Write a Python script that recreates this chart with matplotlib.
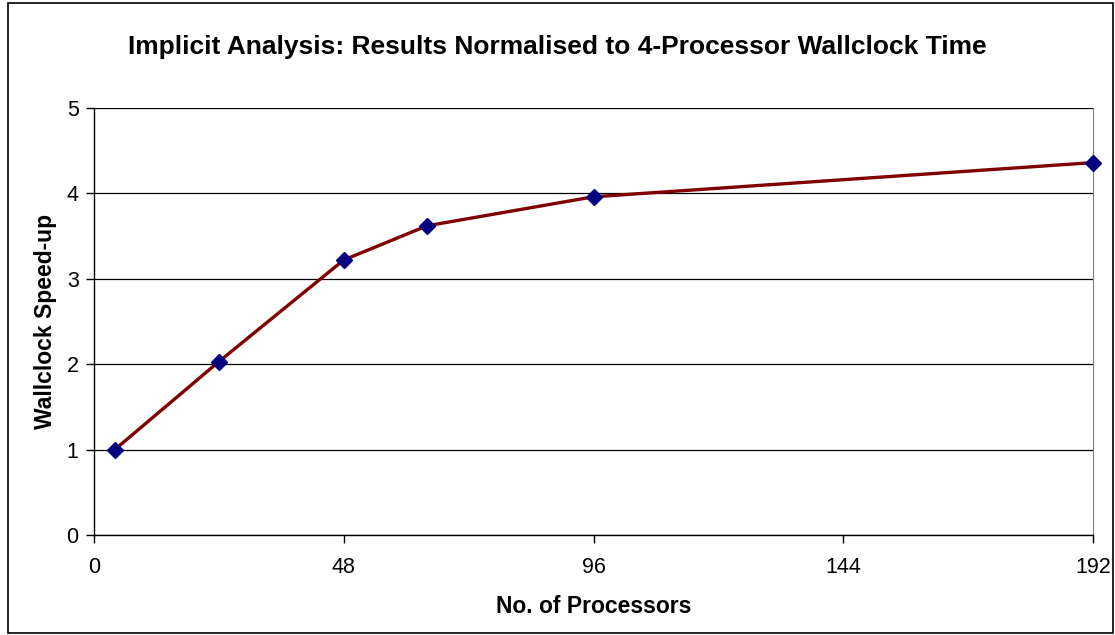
import matplotlib.pyplot as plt
from matplotlib.patches import Rectangle

# Speed-up relative to the 4-processor run
processors = [4, 24, 48, 64, 96, 192]
speedup = [1.0, 2.03, 3.22, 3.62, 3.96, 4.36]
x_ticks = [0, 48, 96, 144, 192]
y_ticks = [0, 1, 2, 3, 4, 5]

plt.rcParams['font.family'] = ['Liberation Sans', 'DejaVu Sans']

fig = plt.figure(figsize=(11.15, 6.35), dpi=100)
ax = fig.add_axes([0.0843, 0.1575, 0.8960, 0.6725])

ax.plot(processors, speedup, color='#800000', linewidth=2.4, zorder=3)
ax.plot(processors, speedup, linestyle='none', marker='D', markersize=8.5,
        color='#000080', markeredgecolor='#000080', zorder=4, clip_on=False)

ax.set_xlim(0, 192)
ax.set_ylim(0, 5)
ax.set_xticks(x_ticks)
ax.set_yticks(y_ticks)
ax.yaxis.grid(True, color='black', linewidth=0.9)
ax.set_axisbelow(True)

ax.spines['top'].set_visible(False)
ax.spines['right'].set_color('#808080')
for side in ('left', 'bottom'):
    ax.spines[side].set_color('black')
    ax.spines[side].set_linewidth(1.0)
ax.tick_params(direction='out', length=6, width=1, labelsize=15.5)
ax.tick_params(axis='x', pad=10)
ax.tick_params(axis='y', pad=5)

ax.set_xlabel('No. of Processors', fontsize=16.5, fontweight='bold', labelpad=12)
ax.set_ylabel('Wallclock Speed-up', fontsize=16.5, fontweight='bold', labelpad=7)
fig.text(0.5, 0.926, 'Implicit Analysis: Results Normalised to 4-Processor Wallclock Time',
         ha='center', va='center', fontsize=19, fontweight='bold')

# outer chart frame
fig.patches.append(Rectangle((0.007, 0.003), 0.991, 0.993, transform=fig.transFigure,
                             fill=False, edgecolor='black', linewidth=1.2))

fig.savefig('out.png', dpi=100)
